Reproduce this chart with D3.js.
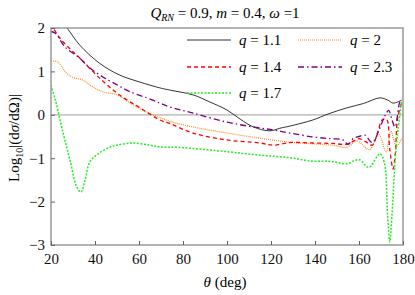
<!DOCTYPE html>
<html>
<head>
<meta charset="utf-8">
<script src="https://cdn.jsdelivr.net/npm/d3@7"></script>
<style>
  body { margin: 0; background: white; }
  svg text { font-family: "Liberation Serif", "Times New Roman", "DejaVu Serif", serif !important; }
</style>
</head>
<body>
<div id="vis"></div>
<script>
var width = 415;
var height = 295;
var margin = {left: 51, right: 12, top: 28, bottom: 50};

// data: [theta (deg), log10 value]
var q11 = [[20,2.45],[24,2.2],[27.3,2.0],[33,1.61],[42,1.19],[51,0.92],[60,0.76],[69.5,0.62],[74,0.57],
  [84.5,0.46],[92,0.3],[100,0.11],[106,-0.1],[112,-0.28],[119.5,-0.37],[124,-0.31],[128.6,-0.26],
  [139,-0.12],[146,0.02],[154.5,0.16],[162,0.26],[169.5,0.39],[173,0.34],[175.5,0.27],[179.5,0.34]];
var q14 = [[20,2.1],[21,2.0],[24,1.77],[28,1.55],[33,1.31],[42,0.85],[51,0.46],[60.5,0.16],[69.5,-0.12],
  [74,-0.2],[84.5,-0.42],[100,-0.58],[115,-0.65],[121,-0.7],[128.6,-0.64],[139,-0.65],[148,-0.66],
  [154,-0.68],[157,-0.62],[160,-0.55],[163,-0.62],[166,-0.7],[168.5,-0.4],[170.5,-0.12],[172.5,-0.1],
  [174,-0.8],[175.5,-1.25],[176.5,-0.9],[177.5,-0.1],[179.5,0.3]];
var q17 = [[20,0.68],[22,0.34],[25.5,-0.42],[28.6,-1.04],[31.7,-1.66],[33.6,-1.78],[35.5,-1.5],[37.7,-1.08],
  [42,-0.88],[47,-0.74],[50,-0.7],[57,-0.65],[65,-0.7],[69.5,-0.74],[77.7,-0.75],[100,-0.85],
  [115,-0.93],[128.6,-0.99],[139,-1.07],[147,-1.07],[154.5,-1.13],[158,-1.05],[160.5,-1.04],[163.6,-1.2],
  [165,-1.2],[169.5,-0.9],[171.5,-1.1],[173,-2.3],[174,-2.93],[175,-2.3],[176.5,-1.0],[177.7,-0.35],[179.5,0.34]];
var q20 = [[20,1.24],[23,1.22],[25,1.1],[27,0.96],[30,0.86],[34.5,0.8],[39,0.64],[43.6,0.53],[50,0.46],[56,0.27],
  [63.6,0.06],[69.5,-0.06],[74,-0.15],[84.5,-0.28],[100,-0.42],[115,-0.54],[128.6,-0.63],[139,-0.67],
  [148,-0.7],[154.5,-0.75],[159,-0.6],[163.6,-0.78],[165,-0.8],[169,-0.45],[172.3,-0.85],[174.5,-0.38],
  [177,-0.72],[179.5,-0.55]];
var q23 = [[20,1.92],[22,1.88],[26.4,1.56],[33,1.31],[37.7,1.08],[43.6,0.87],[50,0.69],[56,0.53],[63.6,0.39],
  [69.5,0.27],[74,0.18],[84.5,0.04],[100,-0.17],[112,-0.28],[121,-0.35],[128.6,-0.42],[139,-0.51],
  [147,-0.55],[152.7,-0.58],[155,-0.68],[157.5,-0.54],[160,-0.5],[162.7,-0.47],[166,-0.64],[169.5,-0.3],
  [171.8,-0.02],[173.5,0.1],[175,-0.12],[176.4,-0.28],[178.6,0.3],[179.5,0.34]];

var xTicks = [20, 40, 60, 80, 100, 120, 140, 160, 180];
var yTicks = [-3, -2, -1, 0, 1, 2];

var series = [
  {name: "1.1", data: q11, color: "#000000", dash: null, w: 0.8},
  {name: "2", data: q20, color: "#ff8c1a", dash: "1,1", w: 1.2},
  {name: "1.4", data: q14, color: "#ff0000", dash: "4,3", w: 1.3},
  {name: "2.3", data: q23, color: "#800080", dash: "6,3,1.5,3", w: 1.3},
  {name: "1.7", data: q17, color: "#22ee22", dash: "2,1.5", w: 1.5}
];

var svg = d3.select("#vis")
  .append("svg")
  .attr("width", width)
  .attr("height", height);

var xScale = d3.scaleLinear().domain([20, 180]).range([margin.left, width - margin.right]);
var yScale = d3.scaleLinear().domain([-3, 2]).range([height - margin.bottom, margin.top]);

svg.append("clipPath").attr("id", "clip")
  .append("rect")
  .attr("x", xScale(20)).attr("y", yScale(2))
  .attr("width", xScale(180) - xScale(20))
  .attr("height", yScale(-3) - yScale(2));

// zero line
svg.append("line")
  .attr("x1", xScale(20)).attr("x2", xScale(180))
  .attr("y1", yScale(0)).attr("y2", yScale(0))
  .attr("stroke", "#b0b0b0").attr("stroke-width", 1.2);

// curves
var line = d3.line()
  .x(d => xScale(d[0]))
  .y(d => yScale(d[1]))
  .curve(d3.curveCatmullRom);

var curves = svg.append("g").attr("clip-path", "url(#clip)");
series.forEach(s => {
  curves.append("path")
    .attr("d", line(s.data))
    .attr("fill", "none")
    .attr("stroke", s.color)
    .attr("stroke-width", s.w)
    .attr("stroke-dasharray", s.dash);
});

// frame
svg.append("rect")
  .attr("x", xScale(20)).attr("y", yScale(2))
  .attr("width", xScale(180) - xScale(20))
  .attr("height", yScale(-3) - yScale(2))
  .attr("fill", "none").attr("stroke", "#999").attr("stroke-width", 1.5);

// axes
var xAxis = d3.axisBottom(xScale).tickValues(xTicks).tickSizeInner(-4).tickSizeOuter(0).tickPadding(8);
var gx = svg.append("g")
  .attr("transform", `translate(0, ${yScale(-3)})`)
  .call(xAxis);
var yAxis = d3.axisLeft(yScale).tickValues(yTicks).tickSizeInner(-4).tickSizeOuter(0).tickPadding(6)
  .tickFormat(d => d < 0 ? "\u2212" + Math.abs(d) : d);
var gy = svg.append("g")
  .attr("transform", `translate(${xScale(20)}, 0)`)
  .call(yAxis);

[gx, gy].forEach(g => {
  g.attr("font-family", null);
  g.select(".domain").remove();
  g.selectAll("line").attr("stroke", "#666").attr("stroke-width", 1);
  g.selectAll("text")
    .style("font-size", "15px")
    .attr("fill", "#111");
});

// title
var title = svg.append("text")
  .attr("x", 225).attr("y", 18)
  .attr("text-anchor", "middle")
  .style("font-size", "15px");
title.append("tspan").attr("font-style", "italic").text("Q");
title.append("tspan").attr("font-style", "italic").attr("font-size", "10px").attr("dy", 3).text("RN");
title.append("tspan").attr("dy", -3).text(" = 0.9, ");
title.append("tspan").attr("font-style", "italic").text("m");
title.append("tspan").text(" = 0.4, ");
title.append("tspan").attr("font-style", "italic").text("\u03c9");
title.append("tspan").text(" =1");

// axis labels
var xl = svg.append("text")
  .attr("x", 225).attr("y", 287)
  .attr("text-anchor", "middle")
  .style("font-size", "15px");
xl.append("tspan").attr("font-style", "italic").text("\u03b8");
xl.append("tspan").text(" (deg)");

var yl = svg.append("text")
  .attr("transform", "translate(19, 138) rotate(-90)")
  .attr("text-anchor", "middle")
  .style("font-size", "15px");
yl.append("tspan").text("Log");
yl.append("tspan").attr("font-size", "10px").attr("dy", 4).text("10");
yl.append("tspan").attr("dy", -4).text("|(d");
yl.append("tspan").attr("font-style", "italic").text("\u03c3");
yl.append("tspan").text("/d\u03a9)|");

// legend
var legendPos = [
  {x: 187, y: 40}, {x: 298, y: 40},
  {x: 187, y: 67}, {x: 298, y: 67},
  {x: 187, y: 93}
];
series.forEach((s, i) => {
  var p = legendPos[i];
  svg.append("line")
    .attr("x1", p.x).attr("x2", p.x + 44)
    .attr("y1", p.y).attr("y2", p.y)
    .attr("stroke", s.color)
    .attr("stroke-width", s.w)
    .attr("stroke-dasharray", s.dash);
  var t = svg.append("text")
    .attr("x", p.x + 52).attr("y", p.y + 5)
    .style("font-size", "15px");
  t.append("tspan").attr("font-style", "italic").text("q");
  t.append("tspan").text(" = " + s.name);
});
</script>
</body>
</html>
